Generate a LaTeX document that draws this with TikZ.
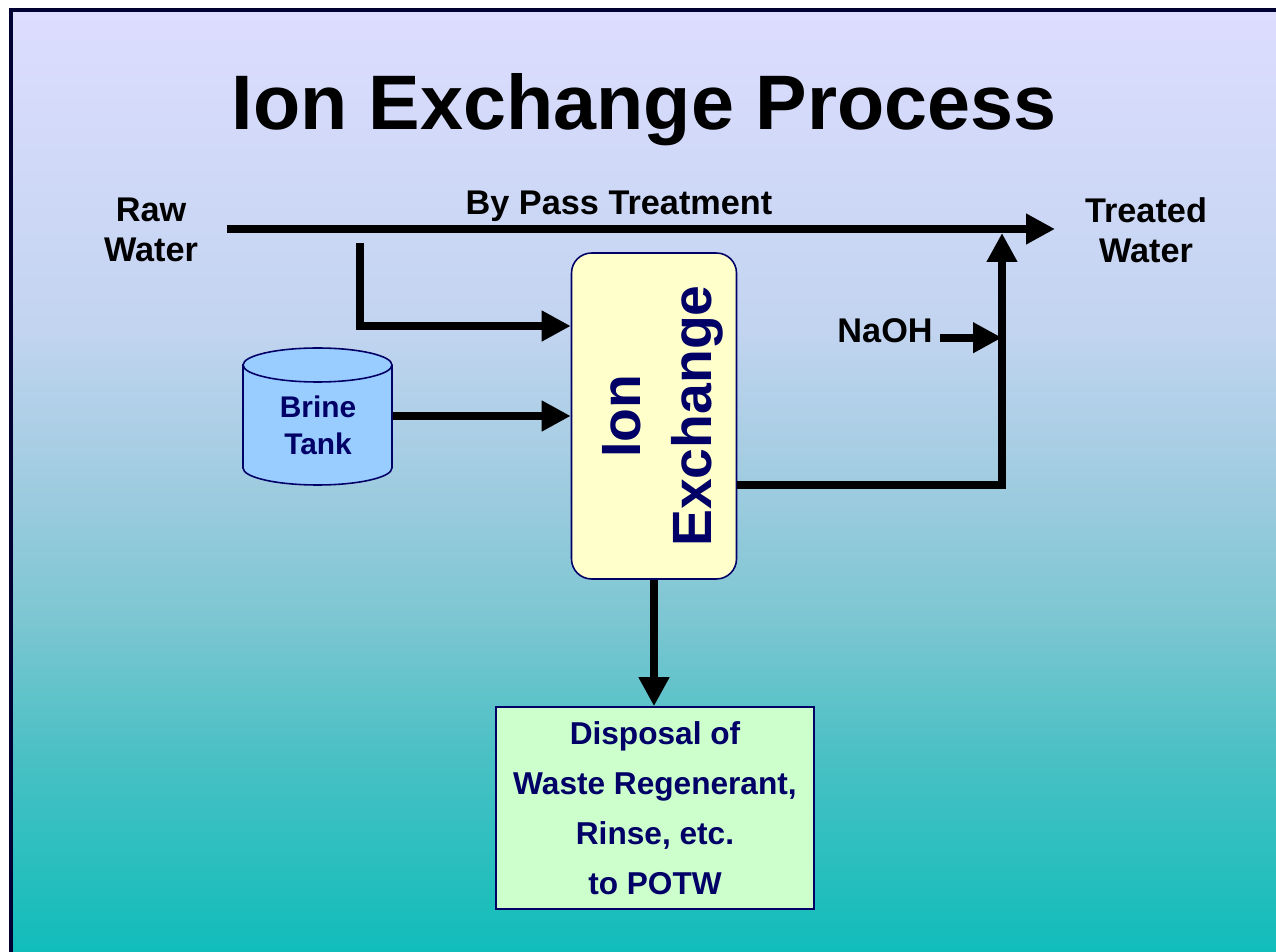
\documentclass[tikz,border=0pt]{standalone}
\usepackage{fontspec}
\setmainfont{Liberation Sans}
\usepackage{graphicx}
\usetikzlibrary{arrows.meta, calc, positioning}

\definecolor{navytext}{HTML}{000066}
\definecolor{framecol}{HTML}{000033}
\definecolor{ixfill}{HTML}{FFFFCC}
\definecolor{dispfill}{HTML}{CCFFCC}
\definecolor{tankfill}{HTML}{99CCFF}
\definecolor{bgA}{RGB}{221,221,255}
\definecolor{bgB}{RGB}{194,212,240}
\definecolor{bgC}{RGB}{160,204,224}
\definecolor{bgD}{RGB}{124,198,210}
\definecolor{bgE}{RGB}{72,192,196}
\definecolor{bgF}{RGB}{16,189,186}

\begin{document}
\begin{tikzpicture}[x=0.02cm, y=-0.02cm,
    flow/.style={line width=4.5pt, -{Triangle[length=0.58cm, width=0.58cm]}},
    lbl/.style={font=\fontsize{19.5}{22.8}\selectfont\bfseries, align=center, inner sep=0pt},
    navybox/.style={draw=navytext, line width=0.9pt, text=navytext, inner sep=0pt}]
    \useasboundingbox (0,0) rectangle (1276,952);
    \clip (0,0) rectangle (1276,952);

    % 1. Slide background: vertical gradient in bands, and the dark frame
    \foreach \ya/\yb/\ca/\cb in {10/331/bgA/bgB, 330/481/bgB/bgC, 480/621/bgC/bgD, 620/761/bgD/bgE, 760/952/bgE/bgF} {
        \shade[top color=\ca, bottom color=\cb] (11,\ya) rectangle (1276,\yb);
    }
    \draw[framecol, line width=2.3pt] (11,10) rectangle (1300,980);

    % 2. Title
    \node[font=\fontsize{44}{50}\selectfont\bfseries, anchor=base] (title) at (644,130) {Ion Exchange Process};

    % 3. Units of the process
    \node[navybox, fill=ixfill, rounded corners=0.4cm, minimum width=3.3cm, minimum height=6.52cm,
          font=\fontsize{31.5}{40}\selectfont\bfseries] (ix) at (654,416)
        {\rotatebox{90}{\raisebox{-4.5pt}[\height][\depth]{\begin{tabular}{@{}c@{}}Ion\\Exchange\end{tabular}}}};

    \node[navybox, fill=dispfill, minimum width=6.36cm, minimum height=4.04cm, align=center,
          font=\fontsize{18}{28.5}\selectfont\bfseries] (disposal) at (655,808)
        {Disposal of\\Waste Regenerant,\\Rinse, etc.\\to POTW};

    % Brine tank drawn as a cylinder, its text on top
    \filldraw[draw=navytext, fill=tankfill, line width=0.9pt] (243,365) -- (243,468)
        arc[start angle=180, end angle=360, x radius=1.49cm, y radius=0.34cm] -- (392,365)
        arc[start angle=0, end angle=180, x radius=1.49cm, y radius=0.34cm] -- cycle;
    \draw[navytext, line width=0.9pt] (392,365) arc[start angle=0, end angle=-180, x radius=1.49cm, y radius=0.34cm];
    \node[lbl, font=\fontsize{17}{21}\selectfont\bfseries, text=navytext, minimum width=2.98cm] (tank) at (318,425) {Brine\\Tank};

    % 4. Stream labels
    \node[lbl] (raw) at (151,230) {Raw\\Water};
    \node[lbl] (treated) at (1146,230) {Treated\\Water};
    \node[lbl, anchor=base] (bypass) at (619,215) {By Pass Treatment};
    \node[lbl, anchor=base east] (naoh) at (933,343) {NaOH};

    % 5. Flow lines
    \coordinate (bpstart) at (227,229);
    \coordinate (bpend) at (1055,229);
    \coordinate (split) at (360,243);
    \coordinate (mix) at (1002,233);

    \draw[flow] (bpstart) -- (bpend);
    \draw[flow] (split) |- ([yshift=1.8cm]ix.west);
    \draw[flow] ([yshift=0.18cm]tank.east) -- (ix.west);
    \draw[flow] ([yshift=-1.38cm]ix.east) -| (mix);
    \draw[flow] ([xshift=0.14cm, yshift=-0.13cm]naoh.east) -- ([yshift=-0.13cm]naoh.east -| mix);
    \draw[flow] (ix.south) -- (ix.south |- disposal.north);

\end{tikzpicture}
\end{document}
